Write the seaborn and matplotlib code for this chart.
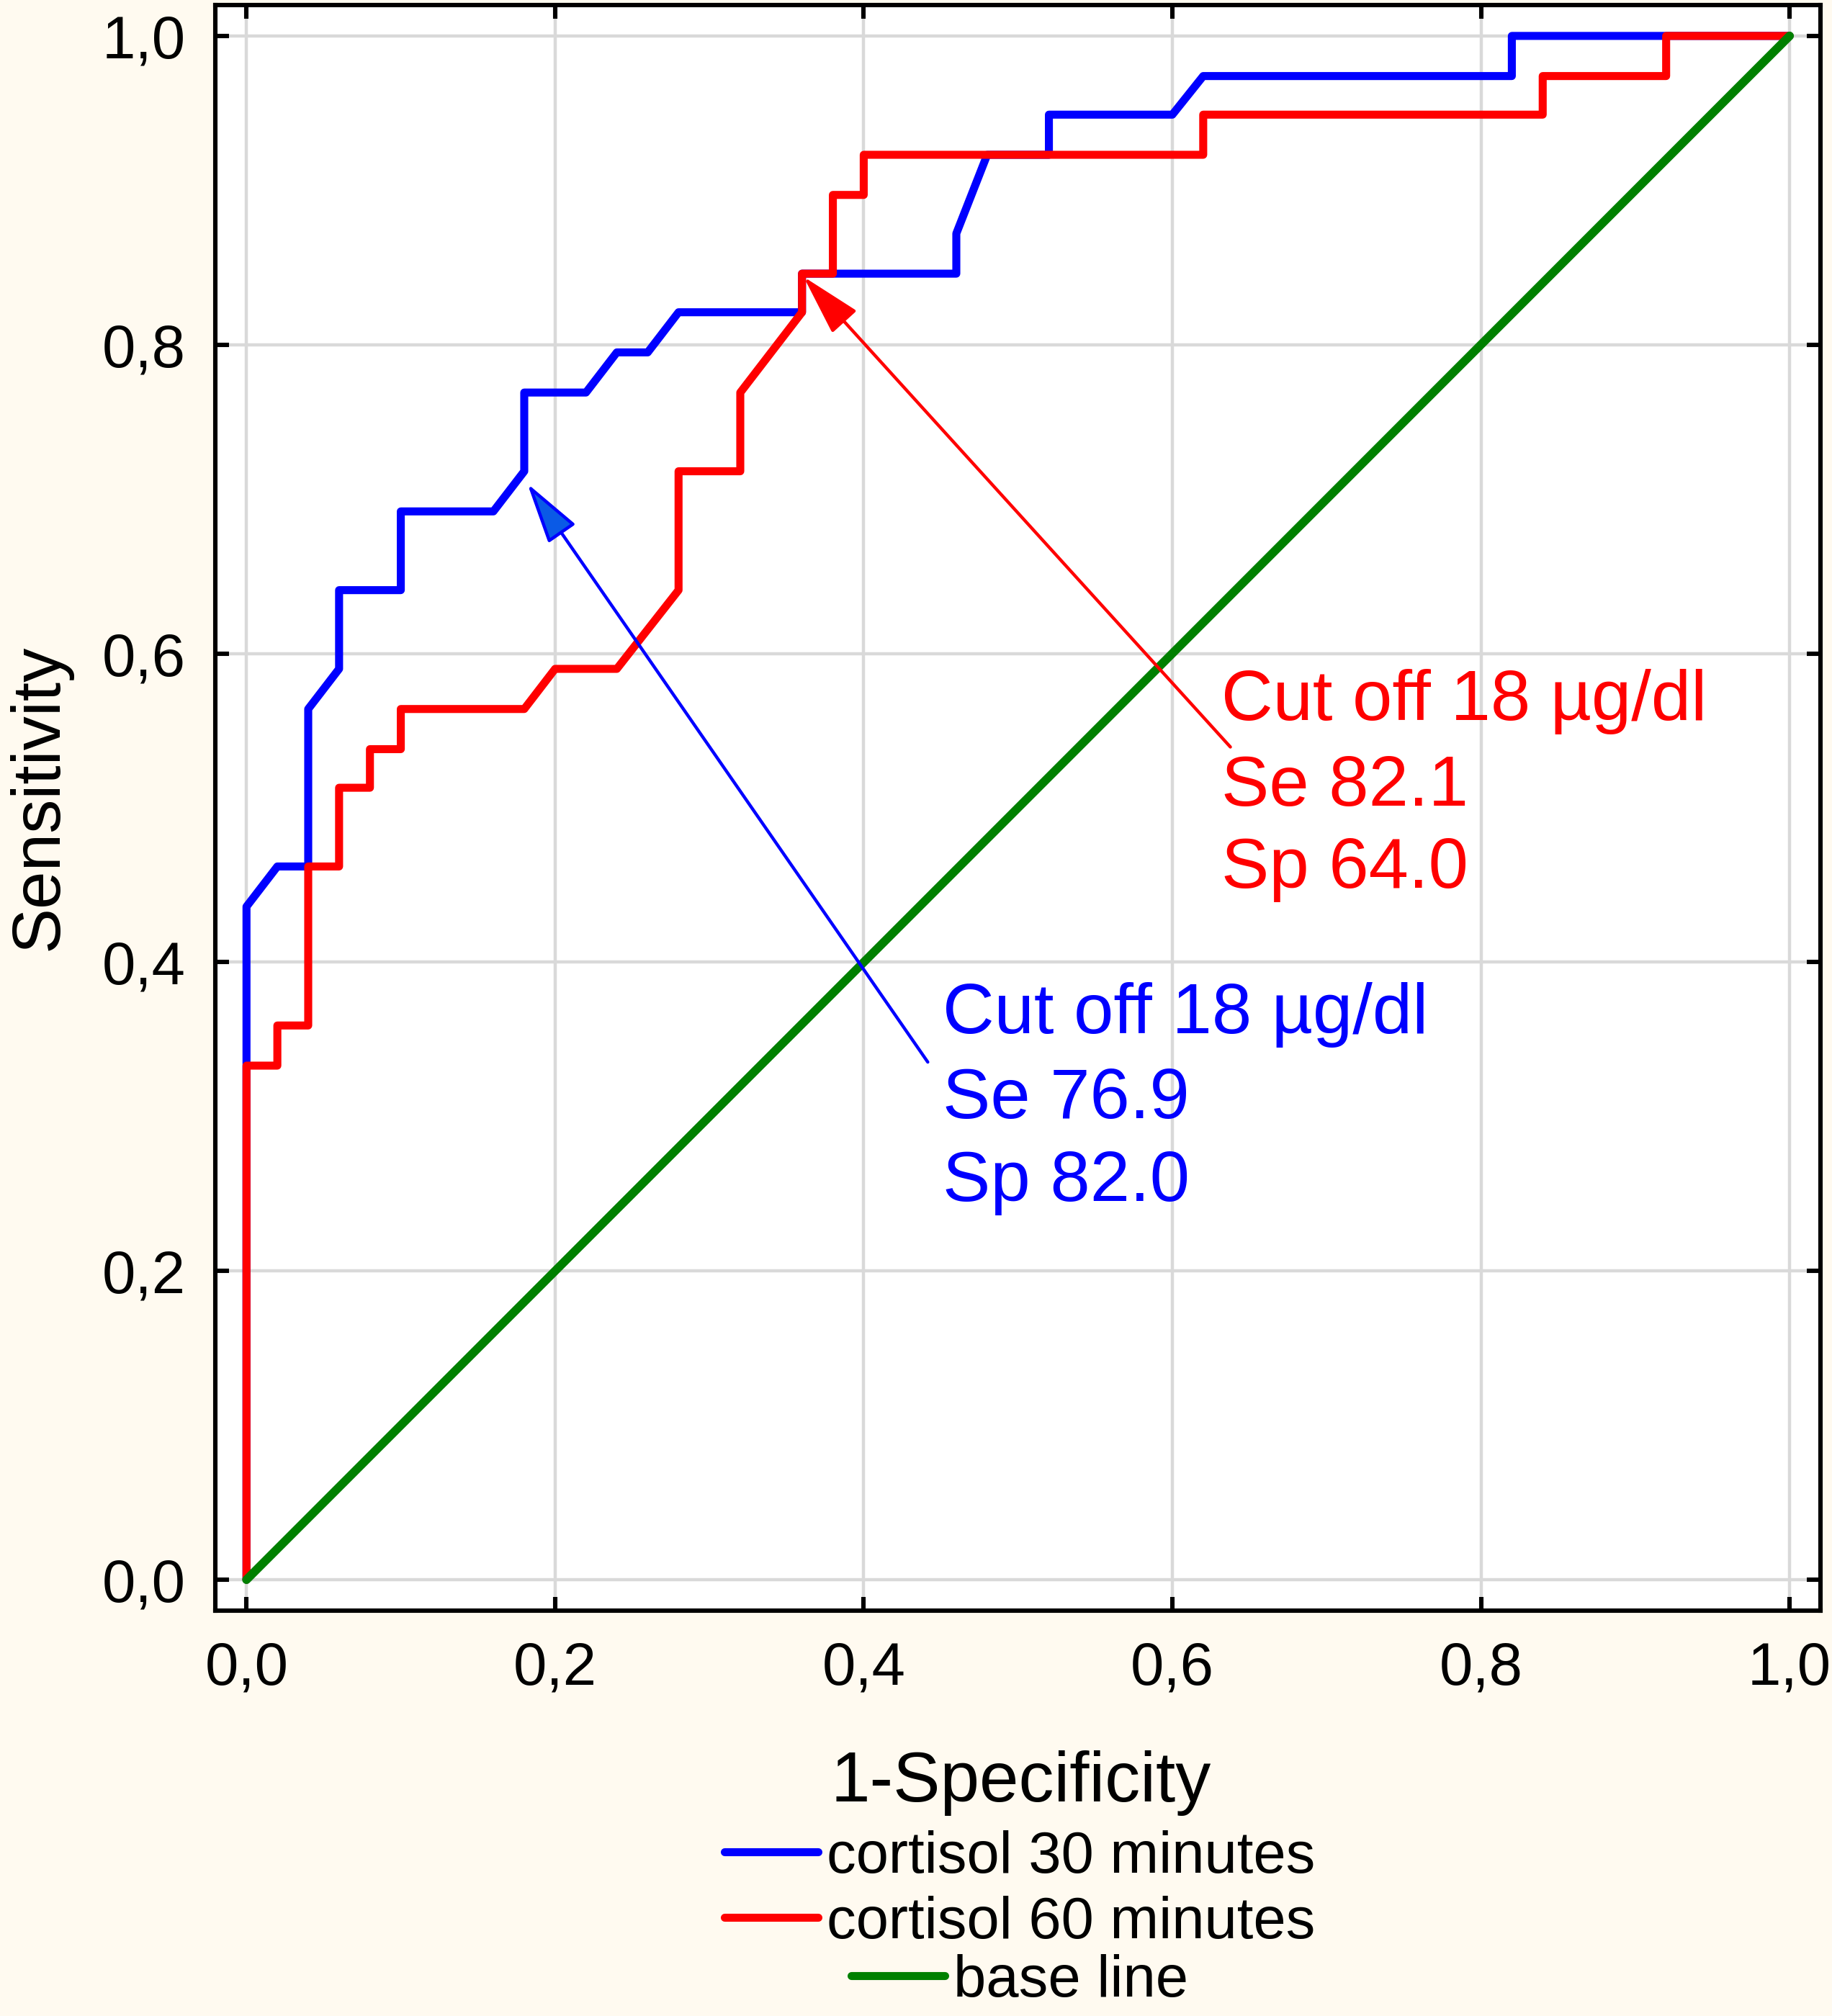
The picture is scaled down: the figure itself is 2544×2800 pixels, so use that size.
import matplotlib
matplotlib.use("Agg")
import matplotlib.pyplot as plt
from matplotlib.lines import Line2D
import seaborn as sns

# ---------------------------------------------------------------
# ROC data (1-specificity, sensitivity)
# ---------------------------------------------------------------
fpr_30 = [0.00, 0.00, 0.02, 0.04, 0.04, 0.06, 0.06, 0.10, 0.10, 0.16, 0.18, 0.18, 0.22, 0.24,
          0.26, 0.28, 0.36, 0.36, 0.46, 0.46, 0.48, 0.52, 0.52, 0.60, 0.62, 0.82, 0.82, 1.00]
tpr_30 = [0.000, 0.436, 0.462, 0.462, 0.564, 0.590, 0.641, 0.641, 0.692, 0.692, 0.718, 0.769, 0.769, 0.795,
          0.795, 0.821, 0.821, 0.846, 0.846, 0.872, 0.923, 0.923, 0.949, 0.949, 0.974, 0.974, 1.000, 1.000]

fpr_60 = [0.00, 0.00, 0.02, 0.02, 0.04, 0.04, 0.06, 0.06, 0.08, 0.08, 0.10, 0.10, 0.18, 0.20, 0.24, 0.28,
          0.28, 0.32, 0.32, 0.36, 0.36, 0.38, 0.38, 0.40, 0.40, 0.62, 0.62, 0.84, 0.84, 0.92, 0.92, 1.00]
tpr_60 = [0.000, 0.333, 0.333, 0.359, 0.359, 0.462, 0.462, 0.513, 0.513, 0.538, 0.538, 0.564, 0.564, 0.590, 0.590, 0.641,
          0.718, 0.718, 0.769, 0.821, 0.846, 0.846, 0.897, 0.897, 0.923, 0.923, 0.949, 0.949, 0.974, 0.974, 1.000, 1.000]

base_x = [0.0, 1.0]
base_y = [0.0, 1.0]

tick_values = [0.0, 0.2, 0.4, 0.6, 0.8, 1.0]
tick_labels = ["0,0", "0,2", "0,4", "0,6", "0,8", "1,0"]

legend_labels = ["cortisol 30 minutes", "cortisol 60 minutes", "base line"]

# cut-off points pointed by the arrows
cut_point_30 = (0.182, 0.710)
cut_point_60 = (0.361, 0.844)
cut_text_30 = ["Cut off 18 \u00b5g/dl", "Se 76.9", "Sp 82.0"]
cut_text_60 = ["Cut off 18 \u00b5g/dl", "Se 82.1", "Sp 64.0"]

blue = "#0000ff"
red = "#ff0000"
green = "#008000"

# ---------------------------------------------------------------
# Figure
# ---------------------------------------------------------------
sns.set_style("whitegrid")
plt.rcParams["font.family"] = ["Liberation Sans", "DejaVu Sans"]

fig = plt.figure(figsize=(12.72, 14), dpi=200, facecolor="#fffaf0")
ax = fig.add_axes([0.1177, 0.2011, 0.876, 0.7964])
ax.set_facecolor("white")

sns.lineplot(x=fpr_30, y=tpr_30, sort=False, estimator=None, color=blue,
             linewidth=4.0, legend=False, ax=ax, zorder=3)
sns.lineplot(x=fpr_60, y=tpr_60, sort=False, estimator=None, color=red,
             linewidth=4.0, legend=False, ax=ax, zorder=4)
sns.lineplot(x=base_x, y=base_y, sort=False, estimator=None, color=green,
             linewidth=4.3, legend=False, ax=ax, zorder=5, solid_capstyle="round")

# axes, grid, ticks
ax.set_xlim(-0.02, 1.02)
ax.set_ylim(-0.02, 1.02)
ax.set_xticks(tick_values)
ax.set_xticklabels(tick_labels)
ax.set_yticks(tick_values)
ax.set_yticklabels(tick_labels)
ax.grid(True, color="#d9d9d9", linewidth=1.6)
ax.set_axisbelow(True)
for sp in ax.spines.values():
    sp.set_visible(True)
    sp.set_color("black")
    sp.set_linewidth(2.2)
ax.tick_params(direction="in", length=7, width=2.2, bottom=True, left=True, top=True, right=True,
               labelsize=30, pad=15, colors="black")

ax.set_xlabel("1-Specificity", fontsize=35.3, color="black")
ax.xaxis.set_label_coords(0.5019, -0.1187)
ax.xaxis.label.set_va("baseline")
ax.set_ylabel("Sensitivity", fontsize=34, color="black")
ax.yaxis.set_label_coords(-0.0985, 0.5065)
ax.yaxis.label.set_va("baseline")

# arrows + cut-off notes
ax.annotate("", xy=cut_point_30, xytext=(0.4415, 0.3353),
            arrowprops=dict(arrowstyle="-|>,head_length=1.33,head_width=0.36", mutation_scale=20,
                            lw=1.6, ec=blue, fc="#0a5ae6", shrinkA=0, shrinkB=0),
            zorder=6)
ax.annotate("", xy=cut_point_60, xytext=(0.6376, 0.5394),
            arrowprops=dict(arrowstyle="-|>,head_length=1.33,head_width=0.36", mutation_scale=20,
                            lw=1.6, ec=red, fc=red, shrinkA=0, shrinkB=0),
            zorder=6)

for txt, yy in zip(cut_text_30, [0.354, 0.2988, 0.2452]):
    ax.text(0.4513, yy, txt, color=blue, fontsize=35.8, ha="left", va="baseline", zorder=7)
for txt, yy in zip(cut_text_60, [0.5568, 0.5016, 0.448]):
    ax.text(0.6317, yy, txt, color=red, fontsize=35.8, ha="left", va="baseline", zorder=7)

# legend rows, each one centred under the plot
for lab, col, yy in zip(legend_labels, [blue, red, green], [0.0786, 0.0462, 0.0172]):
    h = Line2D([], [], color=col, lw=4.0, solid_capstyle="round")
    fig.legend(handles=[h], labels=[lab], loc="center", bbox_to_anchor=(0.5566, yy),
               frameon=False, fontsize=29.3, handlelength=1.6, handletextpad=0.15,
               borderpad=0, borderaxespad=0, labelcolor="black")

fig.savefig("out.png", dpi=200, facecolor=fig.get_facecolor())
